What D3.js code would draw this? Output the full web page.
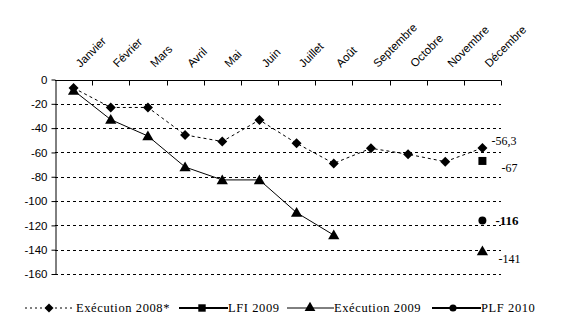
<!DOCTYPE html>
<html><head><meta charset="utf-8">
<script src="https://cdn.jsdelivr.net/npm/d3@7"></script>
<style>body{margin:0;background:#fff}</style>
</head><body>
<svg id="c" width="561" height="325"></svg>
<script>
const months = ["Janvier","Février","Mars","Avril","Mai","Juin","Juillet","Août","Septembre","Octobre","Novembre","Décembre"];
const exec2008 = [-7,-23,-23,-45.6,-51,-33.3,-52.5,-69,-56.6,-61.5,-67.6,-56.3];
const exec2009 = [-9,-33,-46.5,-72,-82.6,-82.6,-109.5,-128,null,null,null,-141];
const lfi2009 = [null,null,null,null,null,null,null,null,null,null,null,-67];
const plf2010 = [null,null,null,null,null,null,null,null,null,null,null,-116];
const yTicks = [0,-20,-40,-60,-80,-100,-120,-140,-160];
const endLabels = [
  {month:"Décembre", v:-56.3, text:"-56,3", dx:9, dy:-3, bold:false},
  {month:"Décembre", v:-67, text:"-67", dx:19, dy:11, bold:false},
  {month:"Décembre", v:-116, text:"-116", dx:13, dy:4, bold:true},
  {month:"Décembre", v:-141, text:"-141", dx:16, dy:12, bold:false}
];
const legendItems = ["Exécution 2008*","LFI 2009","Exécution 2009","PLF 2010"];

const svg = d3.select("#c");
const x = d3.scaleBand().domain(months).range([55,501]);
const y = d3.scaleLinear().domain([-160,0]).range([274,79.5]);
const cx = m => x(m)+x.bandwidth()/2;

// gridlines
svg.append("g").selectAll("line").data(yTicks.filter(t=>t!==0)).join("line")
  .attr("x1",55).attr("x2",501).attr("y1",d=>Math.round(y(d))+0.5).attr("y2",d=>Math.round(y(d))+0.5)
  .attr("stroke","#000").attr("stroke-dasharray","3,3").attr("stroke-width",1);

// y axis
const ya = svg.append("g").attr("transform","translate(55.5,0)")
  .call(d3.axisLeft(y).tickValues(yTicks).tickSize(4).tickSizeOuter(0).tickFormat(d=>d));
ya.select(".domain").attr("stroke","#000");
ya.selectAll("text").attr("font-family","Liberation Sans, Arial, sans-serif").attr("font-size",11.5).attr("fill","#000").attr("dx",-1);

// top axis at 0
const xg = svg.append("g").attr("transform",`translate(0,${Math.round(y(0))+0.5})`);
xg.append("line").attr("x1",55).attr("x2",501).attr("stroke","#000");
xg.selectAll("line.tk").data(d3.range(1,13)).join("line").attr("class","tk")
  .attr("x1",d=>Math.round(55+d*x.step())+0.5).attr("x2",d=>Math.round(55+d*x.step())+0.5)
  .attr("y1",0).attr("y2",5).attr("stroke","#000");
svg.append("g").selectAll("text").data(months).join("text")
  .attr("transform",d=>`translate(${cx(d)+7},68) rotate(-45)`)
  .attr("font-family","Liberation Sans, Arial, sans-serif").attr("font-size",11.5)
  .text(d=>d);

function markerPath(type,size){
  if(type==="diamond"){
    const h=size;
    return `M0,${-h}L${h},0L0,${h}L${-h},0Z`;
  }
  const sym = {triangle:d3.symbolTriangle, square:d3.symbolSquare, circle:d3.symbolCircle}[type];
  return d3.symbol().type(sym).size(size)();
}

const line = d3.line().defined(d=>d.v!==null).x(d=>cx(d.m)).y(d=>y(d.v));
const toPts = arr => arr.map((v,i)=>({m:months[i],v}));

// Exécution 2008
const p08 = toPts(exec2008);
svg.append("path").datum(p08).attr("d",line).attr("fill","none").attr("stroke","#000").attr("stroke-width",1).attr("stroke-dasharray","3,3");
svg.append("g").selectAll("path").data(p08).join("path")
  .attr("transform",d=>`translate(${cx(d.m)},${y(d.v)})`).attr("d",markerPath("diamond",5));

// Exécution 2009
const p09 = toPts(exec2009);
const seg = p09.slice(0,8);
svg.append("path").datum(seg).attr("d",line).attr("fill","none").attr("stroke","#000").attr("stroke-width",1);
svg.append("g").selectAll("path").data(p09.filter(d=>d.v!==null)).join("path")
  .attr("transform",d=>`translate(${cx(d.m)},${y(d.v)+1})`).attr("d",markerPath("triangle",55));

// LFI 2009
svg.append("g").selectAll("path").data(toPts(lfi2009).filter(d=>d.v!==null)).join("path")
  .attr("transform",d=>`translate(${cx(d.m)},${y(d.v)})`).attr("d",markerPath("square",64));
// PLF 2010
svg.append("g").selectAll("path").data(toPts(plf2010).filter(d=>d.v!==null)).join("path")
  .attr("transform",d=>`translate(${cx(d.m)},${y(d.v)})`).attr("d",markerPath("circle",50));

// end labels
svg.append("g").selectAll("text").data(endLabels).join("text")
  .attr("x",d=>cx(d.month)+d.dx).attr("y",d=>y(d.v)+d.dy)
  .attr("font-family","Liberation Serif, Times New Roman, serif")
  .attr("font-size",d=>d.bold?13:12).attr("font-weight",d=>d.bold?"bold":"normal")
  .text(d=>d.text);

// legend
const lg = svg.append("g").attr("font-family","Liberation Serif, Times New Roman, serif").attr("font-size",12.5);
const legendLayout = [
  {x1:25,x2:73,mx:49,tx:76,type:"diamond",dash:"2,3",w:1,size:4.5},
  {x1:179,x2:228,mx:202,tx:228,type:"square",dash:null,w:2,size:55},
  {x1:287,x2:334,mx:310,tx:334,type:"triangle",dash:null,w:1,size:50},
  {x1:432,x2:481,mx:453,tx:481,type:"circle",dash:null,w:2,size:40}
];
legendItems.forEach((name,i)=>{
  const L = legendLayout[i];
  const ly = 308;
  lg.append("line").attr("x1",L.x1).attr("x2",L.x2).attr("y1",ly).attr("y2",ly)
    .attr("stroke","#000").attr("stroke-width",L.w).attr("stroke-dasharray",L.dash);
  lg.append("path").attr("transform",`translate(${L.mx},${ly})`).attr("d",markerPath(L.type,L.size));
  lg.append("text").attr("x",L.tx).attr("y",ly+4).attr("letter-spacing",0.6).text(name);
});
</script>
</body></html>
